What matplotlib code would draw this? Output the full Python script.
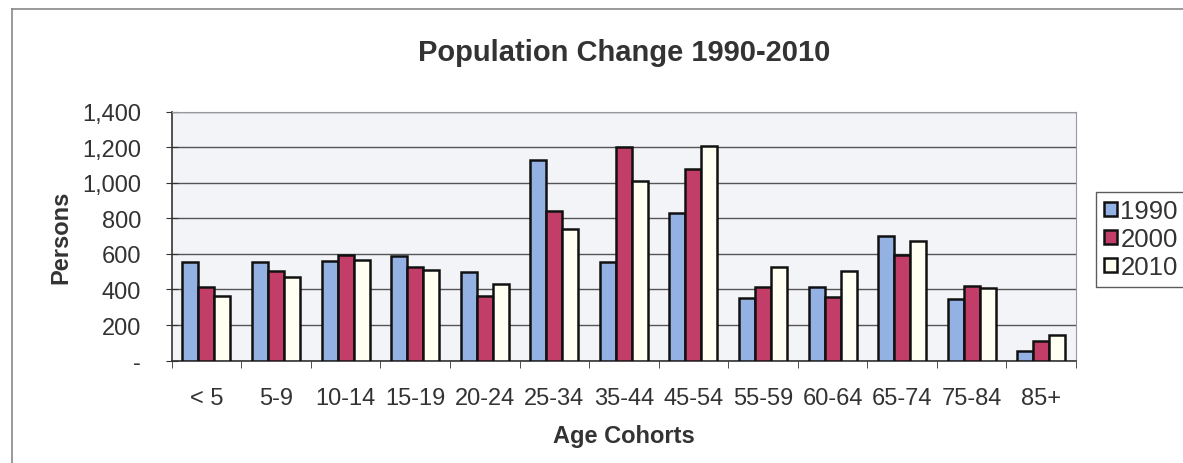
import matplotlib
matplotlib.use("Agg")
import matplotlib.pyplot as plt
import numpy as np
from matplotlib.patches import Rectangle
from matplotlib.lines import Line2D

plt.rcParams['font.family'] = ['Liberation Sans', 'DejaVu Sans']

# Age cohorts and persons per census year
cohorts = ["< 5", "5-9", "10-14", "15-19", "20-24", "25-34", "35-44",
           "45-54", "55-59", "60-64", "65-74", "75-84", "85+"]
pop_1990 = [552, 552, 558, 590, 497, 1128, 557, 829, 350, 412, 699, 347, 52]
pop_2000 = [412, 506, 594, 525, 362, 840, 1203, 1078, 412, 360, 594, 422, 112]
pop_2010 = [365, 469, 566, 512, 431, 740, 1007, 1209, 529, 502, 671, 410, 142]
years = ["1990", "2000", "2010"]
y_ticks = [0, 200, 400, 600, 800, 1000, 1200, 1400]

colors = ["#93B1E3", "#C23E68", "#FFFFF2"]
text_color = "#333333"

fig = plt.figure(figsize=(11.83, 4.64), dpi=100)
ax = fig.add_axes([0.1451, 0.2205, 0.7645, 0.537])
ax.set_facecolor("#F3F4F8")

x = np.arange(len(cohorts))
w = 0.23
series = [pop_1990, pop_2000, pop_2010]
for i, (vals, c) in enumerate(zip(series, colors)):
    ax.bar(x + (i - 1) * w, vals, width=w, color=c, edgecolor="#111111",
           linewidth=1.8, zorder=3)

ax.set_xlim(-0.5, len(cohorts) - 0.5)
ax.set_ylim(0, 1400)
ax.set_yticks(y_ticks)
ax.set_yticklabels(["-" if v == 0 else f"{v:,}" for v in y_ticks],
                   fontsize=17, color=text_color)
ax.yaxis.grid(True, color="#555555", linewidth=1.0, zorder=1)
ax.set_axisbelow(True)

ax.set_xticks(x)
ax.set_xticklabels(cohorts, fontsize=17, color=text_color)
ax.set_xticks(np.arange(-0.5, len(cohorts)), minor=True)
ax.tick_params(axis="x", which="major", length=0, pad=19)
ax.tick_params(axis="x", which="minor", length=5, direction="out", color="#333333")
ax.tick_params(axis="y", length=8, direction="inout", color="#333333", pad=18)

for side in ["top", "right"]:
    ax.spines[side].set_color("#999999")
    ax.spines[side].set_linewidth(0.8)
for side in ["left", "bottom"]:
    ax.spines[side].set_color("#333333")
    ax.spines[side].set_linewidth(1.2)

ax.set_title("Population Change 1990-2010", fontsize=21, fontweight="bold",
             color=text_color, pad=37)
ax.set_ylabel("Persons", fontsize=17, fontweight="bold", color=text_color, labelpad=7)
ax.set_xlabel("Age Cohorts", fontsize=17, fontweight="bold", color=text_color, labelpad=11)

handles = [Rectangle((0, 0), 1, 1, facecolor=c, edgecolor="#111111", linewidth=1.8)
           for c in colors]
leg = fig.legend(handles, years, loc="upper left", bbox_to_anchor=(0.9265, 0.585),
                 fontsize=18.5, frameon=True, fancybox=False, handlelength=0.5,
                 handleheight=0.5, handletextpad=0.15, borderpad=0.3,
                 labelspacing=0.15, borderaxespad=0)
leg.get_frame().set_edgecolor("#333333")
leg.get_frame().set_linewidth(1.0)
for t in leg.get_texts():
    t.set_color(text_color)

# Chart frame
fig.add_artist(Line2D([12 / 1183, 1.0], [1 - 10 / 464, 1 - 10 / 464],
                      transform=fig.transFigure, color="#888888", linewidth=1.2))
fig.add_artist(Line2D([12 / 1183, 12 / 1183], [0, 1 - 10 / 464],
                      transform=fig.transFigure, color="#888888", linewidth=1.2))

fig.savefig("out.png", dpi=100)
